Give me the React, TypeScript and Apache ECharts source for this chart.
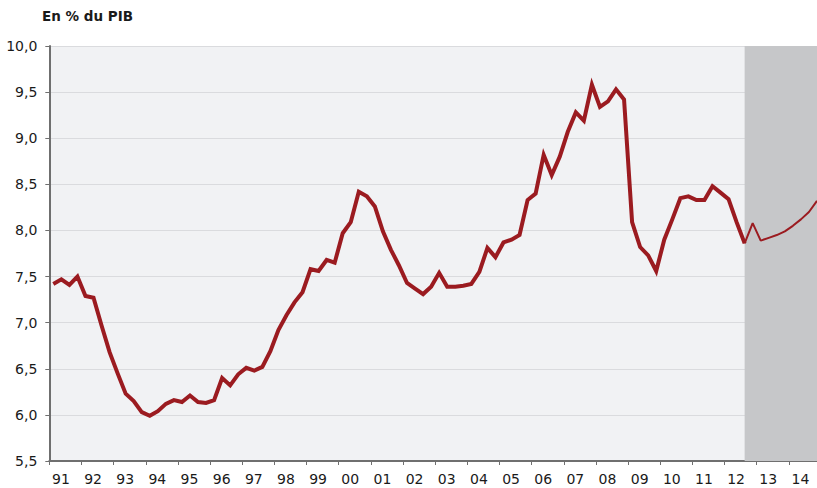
import React, { useEffect, useRef } from "react";
import * as echarts from "echarts";

// Quarterly values, 1991 Q1 .. 2012 Q3 (observed)
const actual: number[] = [
  7.42, 7.47, 7.41, 7.5, 7.29, 7.27, 6.97, 6.68, 6.45, 6.23, 6.15, 6.03,
  5.99, 6.04, 6.12, 6.16, 6.14, 6.21, 6.14, 6.13, 6.16, 6.4, 6.32, 6.44,
  6.51, 6.48, 6.52, 6.69, 6.92, 7.08, 7.22, 7.33, 7.58, 7.56, 7.68, 7.65,
  7.97, 8.09, 8.42, 8.37, 8.26, 7.99, 7.79, 7.62, 7.43, 7.37, 7.31, 7.39,
  7.54, 7.39, 7.39, 7.4, 7.42, 7.55, 7.81, 7.71, 7.87, 7.9, 7.95, 8.33,
  8.4, 8.82, 8.6, 8.8, 9.07, 9.28, 9.19, 9.58, 9.34, 9.4, 9.53, 9.42,
  8.09, 7.82, 7.73, 7.56, 7.9, 8.12, 8.35, 8.37, 8.33, 8.33, 8.48, 8.41,
  8.34, 8.09, 7.86,
];
// Forecast, 2012 Q4 .. 2014 Q4
const forecast: number[] = [8.08, 7.89, 7.92, 7.95, 7.99, 8.05, 8.12, 8.2, 8.32];

const firstYear = 1991;
const yearCount = 24;
const quartersPerYear = 4;
const yMin = 5.5;
const yMax = 10;
const yStep = 0.5;
const titleText = "En % du PIB";

const FONT = "'DejaVu Sans', Verdana, sans-serif";
const LINE = "#9b1b20";
const AXIS = "#6f6f6f";

export default function App() {
  const ref = useRef<HTMLDivElement>(null);
  useEffect(() => {
    if (!ref.current) return;
    const chart = echarts.init(ref.current, null, { renderer: "svg" });
    const nQ = yearCount * quartersPerYear;
    const actualData = actual.map((v, i) => [i + 0.5, v]);
    const lastIdx = actual.length - 1;
    const fcData = [[lastIdx + 0.5, actual[lastIdx]]].concat(
      forecast.map((v, k) => [lastIdx + 1 + k + 0.5, v])
    );
    chart.setOption({
      animation: false,
      textStyle: { fontFamily: FONT },
      title: {
        text: titleText,
        left: 42,
        top: 9,
        padding: 0,
        textStyle: { fontFamily: FONT, fontSize: 13.5, fontWeight: "bold", color: "#1a1a1a" },
      },
      grid: {
        left: 49.3,
        right: 0.5,
        top: 46,
        bottom: 27,
        show: true,
        backgroundColor: "#f1f2f4",
        borderWidth: 0,
        z: -2,
      },
      xAxis: [
        {
          type: "value",
          min: 0,
          max: nQ,
          interval: quartersPerYear,
          position: "bottom",
          axisLine: { show: true, onZero: false, lineStyle: { color: AXIS, width: 2 } },
          axisTick: { show: true, length: 4, lineStyle: { color: AXIS, width: 1 } },
          axisLabel: { show: false },
          splitLine: { show: false },
        },
        {
          type: "value",
          min: 0,
          max: nQ,
          interval: quartersPerYear / 2,
          position: "bottom",
          axisLine: { show: false, onZero: false },
          axisTick: { show: false },
          splitLine: { show: false },
          axisLabel: {
            show: true,
            margin: 11,
            fontSize: 14,
            color: "#1a1a1a",
            fontFamily: FONT,
            padding: [0, 9, 0, 0],
            formatter: (v: number) => {
              if (v % quartersPerYear !== quartersPerYear / 2) return "";
              const y = firstYear + (v - quartersPerYear / 2) / quartersPerYear;
              return String(y % 100).padStart(2, "0");
            },
          },
        },
      ],
      yAxis: {
        type: "value",
        min: yMin,
        max: yMax,
        interval: yStep,
        axisLine: { show: true, lineStyle: { color: AXIS, width: 2 } },
        axisTick: { show: true, length: 4, lineStyle: { color: AXIS, width: 1 } },
        axisLabel: {
          margin: 12,
          fontSize: 14,
          color: "#1a1a1a",
          fontFamily: FONT,
          formatter: (v: number) => v.toFixed(1).replace(".", ","),
        },
        splitLine: { show: true, lineStyle: { color: "#dadbde", width: 1 } },
      },
      series: [
        {
          type: "line",
          xAxisIndex: 0,
          data: [],
          z: -1,
          silent: true,
          markArea: {
            silent: true,
            itemStyle: { color: "#c6c7c9" },
            data: [[{ xAxis: lastIdx + 0.5 }, { xAxis: nQ }]],
          },
        },
        {
          type: "line",
          xAxisIndex: 0,
          data: actualData,
          showSymbol: false,
          lineStyle: { color: LINE, width: 4, join: "miter" },
          itemStyle: { color: LINE },
        },
        {
          type: "line",
          xAxisIndex: 0,
          data: fcData,
          showSymbol: false,
          lineStyle: { color: LINE, width: 2 },
          itemStyle: { color: LINE },
        },
      ],
    });
    return () => chart.dispose();
  }, []);
  return (
    <div
      ref={ref}
      style={{ position: "fixed", left: 0, top: 0, width: 824, height: 488, background: "#ffffff" }}
    />
  );
}
